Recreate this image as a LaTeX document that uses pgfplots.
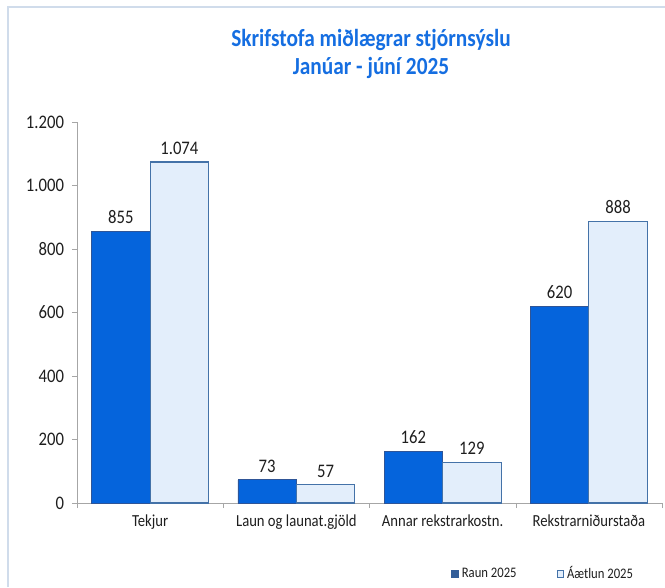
\documentclass[border=0pt]{standalone}
\usepackage{pgfplots}
\pgfplotsset{compat=1.18}
\usepackage{fontspec}
\setmainfont{Carlito}
\definecolor{darkbar}{RGB}{5,100,220}
\definecolor{darkedge}{RGB}{47,85,151}
\definecolor{lightbar}{RGB}{227,238,251}
\definecolor{lightedge}{RGB}{68,114,168}
\definecolor{titleblue}{RGB}{21,110,225}
\definecolor{framecol}{RGB}{208,220,235}
\definecolor{axisgray}{RGB}{166,166,166}
\definecolor{txt}{RGB}{30,30,30}
\definecolor{legnavy}{RGB}{51,94,153}
\newcommand{\vs}[1]{\scalebox{1}[1.15]{#1}}
\begin{document}
\begin{tikzpicture}[x=0.75pt,y=0.75pt]
\useasboundingbox (0,0) rectangle (665,587);
\draw[framecol, line width=1.5pt] (8,0) -- (8,580) -- (665,580);
\begin{axis}[
  at={(57.75pt,63pt)}, anchor=south west,
  scale only axis, width=438.75pt, height=285.75pt,
  /pgf/number format/.cd, 1000 sep={.}, assume math mode=true, /pgfplots/.cd,
  ymin=0, ymax=1200, ytick={0,200,...,1200},
  yticklabel={\vs{\pgfmathprintnumber{\tick}}},
  xmin=-0.5, xmax=3.5, xtick={-0.5,0.5,1.5,2.5,3.5}, xticklabels={},
  extra x ticks={0,1,2,3},
  extra x tick labels={\vs{Tekjur}, \vs{Laun og launat.gjöld}, \vs{Annar rekstrarkostn.}, \vs{Rekstrarniðurstaða}},
  extra x tick style={major tick length=0pt},
  ybar=0pt, bar width=0.4,
  axis x line*=bottom, axis y line*=left,
  axis line style={axisgray, -},
  tick align=outside,
  major tick length=3.75pt,
  tick style={axisgray},
  yticklabel style={font=\fontsize{12.5}{14}\selectfont, text=txt, xshift=-2.5pt},
  xticklabel style={font=\fontsize{11}{13}\selectfont, text=txt, yshift=-5.5pt},
  nodes near coords={\vs{\pgfmathprintnumber{\pgfplotspointmeta}}},
  nodes near coords style={font=\fontsize{12.5}{14}\selectfont, text=txt, yshift=2pt},
  legend style={at={(0.797,-0.186)}, anchor=center, draw=none, fill=none,
    font=\fontsize{9.5}{11}\selectfont, text=txt, legend columns=2,
    /tikz/every even column/.append style={column sep=28pt}},
  legend cell align=left,
]
\addplot[fill=darkbar, draw=darkedge, line width=0.5pt,
  legend image code/.code={\fill[legnavy] (0pt,-2.9pt) rectangle (5.8pt,2.9pt);}]
  coordinates {(0,855) (1,73) (2,162) (3,620)};
\addplot[fill=lightbar, draw=lightedge, line width=0.8pt,
  legend image code/.code={\draw[lightedge, fill=lightbar, line width=0.8pt] (0.4pt,-2.5pt) rectangle (5.4pt,2.5pt);}]
  coordinates {(0,1074) (1,57) (2,129) (3,888)};
\legend{\vs{Raun 2025}, \vs{Áætlun 2025}}
\end{axis}
\node[align=center, font=\bfseries\fontsize{16}{21}\selectfont, text=titleblue] at (371,533) {\vs{Skrifstofa miðlægrar stjórnsýslu}\\\vs{Janúar - júní 2025}};
\end{tikzpicture}
\end{document}
